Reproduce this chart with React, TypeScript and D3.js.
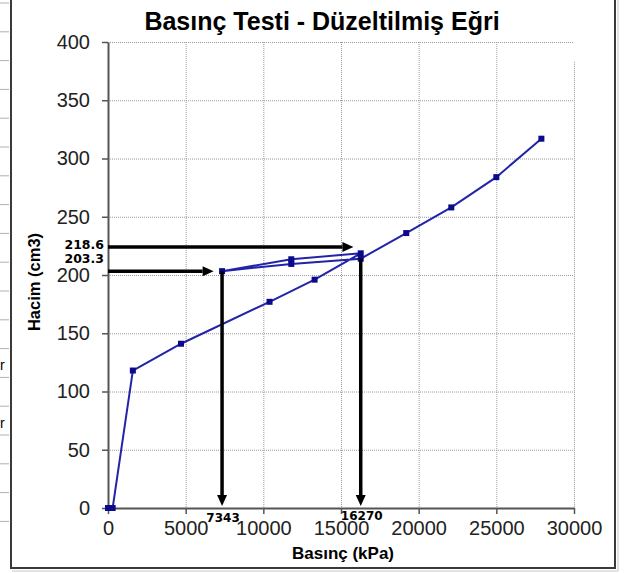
import { useEffect, useRef } from 'react';
import * as d3 from 'd3';

// Basınç testi verileri (yükleme - boşaltma - tekrar yükleme)
const pressure = [0, 300, 1600, 4700, 10400, 13300, 16270, 11800, 7343, 11800, 16270, 19200, 22100, 25000, 27900];
const volume = [0, 0, 118, 141, 177, 196, 218.6, 213.5, 203.3, 209.5, 214, 236, 258, 284, 317];

const xTicks = [0, 5000, 10000, 15000, 20000, 25000, 30000];
const yTicks = [0, 50, 100, 150, 200, 250, 300, 350, 400];

// okların değerleri
const hArrowVals = [224, 203.3];
const hArrowEnds = [15800, 6800];
const hArrowLabels = ['218.6', '203.3'];
const vArrowVals = [7343, 16270];
const vArrowTops = [203.3, 214];
const vArrowLabels = ['7343', '16270'];

const App = () => {
    const svgRef = useRef<SVGSVGElement>(null);

    useEffect(() => {
        const W = 624, H = 573;
        const svg = d3.select(svgRef.current);
        svg.selectAll('*').remove();
        svg.attr('width', W).attr('height', H);

        const x = d3.scaleLinear().domain([0, 30000]).range([108, 574]);
        const y = d3.scaleLinear().domain([0, 400]).range([508, 42]);

        svg.append('rect').attr('width', W).attr('height', H).attr('fill', 'white');

        // solda tablo hücreleri
        const cells = svg.append('g');
        d3.range(3, 530, 28.8).forEach(v => {
            cells.append('line')
                .attr('x1', 0).attr('x2', 9).attr('y1', v).attr('y2', v)
                .attr('stroke', '#b0b0b0');
        });
        [370, 428].forEach(v => {
            cells.append('text').attr('x', 0).attr('y', v)
                .style('font-family', 'Liberation Sans, Arial, sans-serif')
                .style('font-size', '14px').text('r');
        });

        // çerçeve
        svg.append('rect')
            .attr('x', 11).attr('y', -4).attr('width', 604).attr('height', 572)
            .attr('fill', 'white').attr('stroke', '#3a3a3a').attr('stroke-width', 2);
        svg.append('path')
            .attr('d', 'M618,0 V571 H12')
            .attr('fill', 'none').attr('stroke', '#c8c8c8').attr('stroke-width', 1);

        const g = svg.append('g');

        // ızgara
        g.selectAll('.hgrid')
            .data(yTicks.filter(d => d > 0))
            .enter().append('line')
            .attr('x1', x(0)).attr('x2', x(30000))
            .attr('y1', d => y(d) + 0.5).attr('y2', d => y(d) + 0.5)
            .attr('stroke', '#9a9a9a').attr('stroke-dasharray', '1,1');
        g.selectAll('.vgrid')
            .data(xTicks.filter(d => d > 0))
            .enter().append('line')
            .attr('x1', d => x(d) + 0.5).attr('x2', d => x(d) + 0.5)
            .attr('y1', d => (d === 30000 ? y(383) : y(400)))
            .attr('y2', y(0))
            .attr('stroke', '#9a9a9a').attr('stroke-dasharray', '1,1');

        // eksenler
        const font = 'Liberation Sans, Arial, sans-serif';
        const yAxis = g.append('g')
            .attr('transform', `translate(${x(0)},0)`)
            .call(d3.axisLeft(y).tickValues(yTicks).tickSize(6).tickSizeOuter(0).tickPadding(12));
        const xAxis = g.append('g')
            .attr('transform', `translate(0,${y(0)})`)
            .call(d3.axisBottom(x).tickValues(xTicks).tickSize(6).tickSizeOuter(0).tickPadding(7).tickFormat(d3.format('d')));
        [yAxis, xAxis].forEach(a => {
            a.select('.domain').attr('stroke', '#555').attr('stroke-width', 2);
            a.selectAll('.tick line').attr('stroke', '#555').attr('stroke-width', 1.5);
            a.selectAll('.tick text')
                .style('font-family', font).style('font-size', '20px').attr('fill', '#222');
        });

        // eğri
        const pts = pressure.map((p, i) => [p, volume[i]] as [number, number]);
        g.append('path')
            .datum(pts)
            .attr('fill', 'none')
            .attr('stroke', '#2323a8')
            .attr('stroke-width', 2)
            .attr('d', d3.line<[number, number]>().x(d => x(d[0])).y(d => y(d[1])));
        g.selectAll('.pt')
            .data(pts)
            .enter().append('rect')
            .attr('x', d => x(d[0]) - 3).attr('y', d => y(d[1]) - 3)
            .attr('width', 6).attr('height', 6)
            .attr('fill', '#0a0a8a');

        // oklar
        const arrow = (x1: number, y1: number, x2: number, y2: number) => {
            const ang = Math.atan2(y2 - y1, x2 - x1);
            const L = 11, Wd = 5;
            const bx = x2 - L * Math.cos(ang), by = y2 - L * Math.sin(ang);
            g.append('line')
                .attr('x1', x1).attr('y1', y1).attr('x2', bx).attr('y2', by)
                .attr('stroke', 'black').attr('stroke-width', 3.5);
            g.append('path')
                .attr('d', `M${x2},${y2} L${bx - Wd * Math.sin(ang)},${by + Wd * Math.cos(ang)} L${bx + Wd * Math.sin(ang)},${by - Wd * Math.cos(ang)} Z`)
                .attr('fill', 'black');
        };
        hArrowVals.forEach((v, i) => arrow(x(0), y(v), x(hArrowEnds[i]), y(v)));
        vArrowVals.forEach((v, i) => arrow(x(v), y(vArrowTops[i]), x(v), y(0) - 2));

        const labFont = 'DejaVu Sans, Verdana, sans-serif';
        hArrowLabels.forEach((t, i) => {
            g.append('text')
                .attr('x', 104).attr('y', i === 0 ? 249 : 263)
                .attr('text-anchor', 'end')
                .style('font-family', labFont).style('font-size', '12.5px').style('font-weight', 'bold')
                .text(t);
        });
        vArrowLabels.forEach((t, i) => {
            g.append('text')
                .attr('x', x(vArrowVals[i]) + 1).attr('y', i === 0 ? 522 : 520)
                .attr('text-anchor', 'middle')
                .style('font-family', labFont).style('font-size', '12px').style('font-weight', 'bold')
                .text(t);
        });

        // başlıklar
        svg.append('text')
            .attr('x', 322).attr('y', 30)
            .attr('text-anchor', 'middle')
            .style('font-family', font).style('font-size', '25px').style('font-weight', 'bold')
            .text('Basınç Testi - Düzeltilmiş Eğri');
        svg.append('text')
            .attr('x', 343).attr('y', 559)
            .attr('text-anchor', 'middle')
            .style('font-family', font).style('font-size', '17px').style('font-weight', 'bold')
            .text('Basınç (kPa)');
        svg.append('text')
            .attr('transform', 'translate(40,282) rotate(-90)')
            .attr('text-anchor', 'middle')
            .style('font-family', font).style('font-size', '16.5px').style('font-weight', 'bold')
            .text('Hacim (cm3)');
    }, []);

    return (
        <svg ref={svgRef} style={{ position: 'absolute', left: 0, top: 0 }}></svg>
    );
};

export default App;
